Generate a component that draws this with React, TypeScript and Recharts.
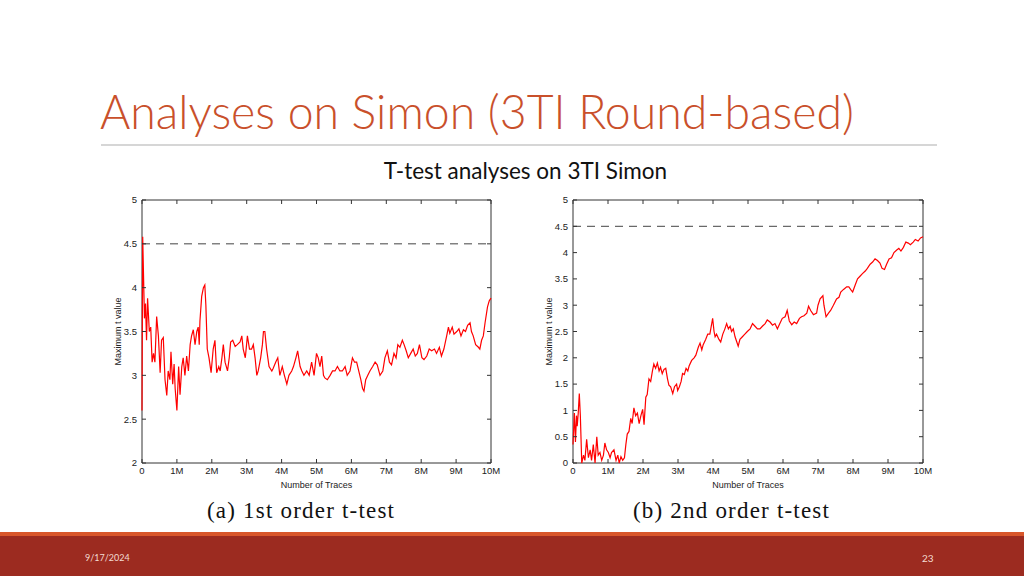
import {
	Line,
	LineChart,
	ReferenceArea,
	ReferenceLine,
	XAxis,
	YAxis,
} from 'recharts';

// 1st order t-test (left panel): traces in millions, max t value
const tracesFirst = [
	0, 0.02, 0.07, 0.1, 0.13, 0.16, 0.21, 0.25, 0.29, 0.33, 0.37, 0.42, 0.47, 0.52, 0.56, 0.61, 0.66, 0.71, 0.75, 0.8,
	0.83, 0.88, 0.92, 0.95, 1.0, 1.05, 1.09, 1.14, 1.18, 1.23, 1.28, 1.33, 1.38, 1.42, 1.47, 1.52, 1.57, 1.61, 1.64, 1.66,
	1.71, 1.76, 1.8, 1.83, 1.87, 1.92, 1.98, 2.04, 2.09, 2.14, 2.2, 2.24, 2.29, 2.33, 2.38, 2.45, 2.5, 2.54, 2.6, 2.67,
	2.73, 2.81, 2.86, 2.9, 2.96, 3.02, 3.08, 3.14, 3.19, 3.24, 3.29, 3.33, 3.4, 3.45, 3.48, 3.52, 3.57, 3.64, 3.72, 3.76,
	3.83, 3.89, 3.95, 4.02, 4.08, 4.15, 4.21, 4.29, 4.34, 4.41, 4.46, 4.53, 4.58, 4.64, 4.72, 4.79, 4.86, 4.93, 5.0, 5.05,
	5.1, 5.15, 5.2, 5.24, 5.31, 5.39, 5.46, 5.53, 5.6, 5.67, 5.74, 5.82, 5.88, 5.96, 6.03, 6.09, 6.15, 6.21, 6.27, 6.32,
	6.36, 6.41, 6.47, 6.53, 6.61, 6.68, 6.74, 6.82, 6.9, 6.96, 7.03, 7.09, 7.15, 7.22, 7.28, 7.33, 7.39, 7.46, 7.51, 7.57,
	7.63, 7.7, 7.77, 7.83, 7.89, 7.95, 8.02, 8.08, 8.16, 8.23, 8.3, 8.38, 8.44, 8.52, 8.58, 8.65, 8.73, 8.78, 8.82, 8.89,
	8.94, 9.02, 9.08, 9.14, 9.21, 9.27, 9.33, 9.4, 9.44, 9.49, 9.56, 9.64, 9.68, 9.73, 9.78, 9.83, 9.9, 9.95, 10,
];
const tValueFirst = [
	2.6, 4.58, 3.65, 3.82, 3.4, 3.88, 3.5, 3.55, 3.15, 3.25, 3.15, 3.67, 3.45, 3.03, 3.4, 3.43, 2.95, 2.77, 3.05, 2.95,
	3.27, 2.9, 3.13, 2.85, 2.6, 3.1, 2.78, 3.1, 3.2, 3.0, 3.22, 3.05, 3.35, 3.45, 3.52, 3.35, 3.5, 3.55, 3.35, 3.62,
	3.9, 4.0, 4.03, 3.8, 3.3, 3.2, 3.03, 3.3, 3.4, 3.03, 3.1, 3.05, 3.2, 3.35, 3.15, 3.05, 3.2, 3.38, 3.4, 3.33,
	3.35, 3.38, 3.45, 3.3, 3.2, 3.45, 3.3, 3.3, 3.35, 3.2, 3.0, 3.05, 3.2, 3.35, 3.5, 3.5, 3.3, 3.1, 3.05, 3.08,
	3.15, 3.2, 3.0, 3.1, 3.0, 2.9, 3.0, 3.05, 3.1, 3.2, 3.28, 3.1, 3.05, 3.0, 3.05, 3.0, 3.15, 3.0, 3.25, 3.2,
	3.1, 3.22, 3.0, 2.97, 2.95, 3.0, 3.05, 3.05, 3.1, 3.05, 3.05, 3.1, 3.0, 3.05, 3.2, 3.15, 3.15, 3.05, 2.95, 2.85,
	2.82, 2.95, 3.0, 3.05, 3.1, 3.15, 3.12, 3.0, 3.05, 3.2, 3.28, 3.15, 3.12, 3.25, 3.2, 3.35, 3.32, 3.4, 3.35, 3.28,
	3.2, 3.25, 3.3, 3.22, 3.25, 3.35, 3.2, 3.18, 3.22, 3.3, 3.28, 3.3, 3.25, 3.32, 3.22, 3.3, 3.45, 3.55, 3.48, 3.55,
	3.47, 3.5, 3.53, 3.45, 3.52, 3.5, 3.57, 3.6, 3.5, 3.45, 3.35, 3.32, 3.3, 3.4, 3.45, 3.6, 3.78, 3.85, 3.88,
];

// 2nd order t-test (right panel)
const tracesSecond = [
	0, 0.04, 0.07, 0.1, 0.12, 0.15, 0.18, 0.21, 0.25, 0.3, 0.34, 0.39, 0.44, 0.49, 0.53, 0.58, 0.63, 0.68, 0.72, 0.77,
	0.82, 0.87, 0.91, 0.96, 1.01, 1.06, 1.1, 1.17, 1.23, 1.28, 1.32, 1.37, 1.42, 1.47, 1.51, 1.55, 1.6, 1.65, 1.69, 1.74,
	1.79, 1.84, 1.89, 1.94, 1.99, 2.03, 2.08, 2.12, 2.17, 2.22, 2.27, 2.31, 2.36, 2.41, 2.46, 2.5, 2.55, 2.6, 2.65, 2.7,
	2.74, 2.79, 2.85, 2.9, 2.96, 2.99, 3.04, 3.09, 3.13, 3.18, 3.23, 3.28, 3.32, 3.39, 3.46, 3.51, 3.58, 3.63, 3.68, 3.72,
	3.79, 3.85, 3.91, 3.99, 4.03, 4.06, 4.1, 4.17, 4.22, 4.28, 4.34, 4.39, 4.44, 4.49, 4.53, 4.58, 4.63, 4.68, 4.72, 4.77,
	4.84, 4.91, 4.98, 5.06, 5.13, 5.2, 5.27, 5.34, 5.41, 5.49, 5.55, 5.63, 5.7, 5.77, 5.84, 5.91, 5.98, 6.06, 6.12, 6.18,
	6.25, 6.32, 6.39, 6.47, 6.53, 6.6, 6.68, 6.73, 6.79, 6.87, 6.96, 7.0, 7.06, 7.14, 7.17, 7.23, 7.3, 7.36, 7.44, 7.53,
	7.6, 7.65, 7.73, 7.82, 7.88, 7.93, 7.99, 8.06, 8.13, 8.2, 8.27, 8.35, 8.41, 8.49, 8.56, 8.63, 8.7, 8.77, 8.83, 8.9,
	8.96, 9.03, 9.1, 9.17, 9.25, 9.31, 9.37, 9.44, 9.51, 9.58, 9.64, 9.72, 9.78, 9.86, 9.93, 10,
];
const tValueSecond = [
	0.35, 0.95, 0.4, 0.9, 0.7, 0.95, 1.32, 0.9, 0.0, 0.15, 0.05, 0.45, 0.1, 0.25, 0.05, 0.35, 0.0, 0.5, 0.15, 0.2,
	0.05, 0.15, 0.38, 0.25, 0.2, 0.1, 0.2, 0.25, 0.05, 0.15, 0.0, 0.12, 0.05, 0.1, 0.35, 0.55, 0.6, 0.85, 0.75, 1.05,
	0.9, 0.95, 0.75, 0.9, 1.02, 0.73, 1.25, 1.3, 1.6, 1.55, 1.75, 1.88, 1.8, 1.9, 1.75, 1.82, 1.7, 1.78, 1.8, 1.6,
	1.48, 1.45, 1.32, 1.45, 1.5, 1.38, 1.45, 1.55, 1.7, 1.68, 1.8, 1.75, 1.85, 1.95, 2.0, 2.05, 2.2, 2.28, 2.15, 2.25,
	2.35, 2.45, 2.45, 2.75, 2.5, 2.4, 2.45, 2.35, 2.3, 2.45, 2.55, 2.65, 2.55, 2.6, 2.5, 2.55, 2.4, 2.3, 2.22, 2.35,
	2.4, 2.45, 2.5, 2.55, 2.65, 2.6, 2.55, 2.55, 2.6, 2.65, 2.72, 2.68, 2.62, 2.65, 2.55, 2.65, 2.75, 2.78, 2.9, 2.7,
	2.63, 2.68, 2.65, 2.75, 2.78, 2.8, 2.85, 2.98, 2.9, 2.82, 2.85, 3.0, 3.12, 3.18, 3.0, 2.78, 2.85, 2.9, 3.0, 3.12,
	3.15, 3.25, 3.3, 3.35, 3.35, 3.3, 3.25, 3.38, 3.5, 3.55, 3.6, 3.65, 3.7, 3.78, 3.82, 3.88, 3.85, 3.8, 3.7, 3.68,
	3.78, 3.88, 3.9, 4.0, 4.05, 4.08, 4.03, 4.1, 4.2, 4.18, 4.15, 4.2, 4.25, 4.22, 4.28, 4.3,
];

const traceTicks = [0, 1, 2, 3, 4, 5, 6, 7, 8, 9, 10];
const firstTicks = [2, 2.5, 3, 3.5, 4, 4.5, 5];
const secondTicks = [0, 0.5, 1, 1.5, 2, 2.5, 3, 3.5, 4, 4.5, 5];
const threshold = 4.5;

const firstData = tracesFirst.map((t, i) => ({ t, v: tValueFirst[i] }));
const secondData = tracesSecond.map((t, i) => ({ t, v: tValueSecond[i] }));

const axisFont = '"Liberation Sans", Arial, sans-serif';
const bodyFont = 'Lato, "Open Sans", sans-serif';
const captionFont = '"Liberation Serif", serif';

const fmtTrace = (v: number) => (v === 0 ? '0' : `${v}M`);

function BottomTick({ x, y, payload, plotHeight }: any) {
	return (
		<g>
			<line x1={x} x2={x} y1={y - 4} y2={y - 8} stroke="#333" />
			<line x1={x} x2={x} y1={y - 4 - plotHeight} y2={y - plotHeight} stroke="#333" />
			<text x={x} y={y} dy="0.71em" textAnchor="middle" fontSize={9.5} fontFamily={axisFont} fill="#222">
				{fmtTrace(payload.value)}
			</text>
		</g>
	);
}

function LeftTick({ x, y, payload, plotWidth }: any) {
	return (
		<g>
			<line x1={x + 5} x2={x + 9} y1={y} y2={y} stroke="#333" />
			<line x1={x + 5 + plotWidth} x2={x + 1 + plotWidth} y1={y} y2={y} stroke="#333" />
			<text x={x} y={y} dy="0.355em" textAnchor="end" fontSize={9.5} fontFamily={axisFont} fill="#222">
				{payload.value}
			</text>
		</g>
	);
}

type PanelProps = {
	data: { t: number; v: number }[];
	ticks: number[];
	yMin: number;
	left: number;
	marginRight: number;
	plotWidth: number;
};

function Panel({ data, ticks, yMin, left, marginRight, plotWidth }: PanelProps) {
	return (
		<div style={{ position: 'absolute', left, top: 190 }}>
			<LineChart
				width={420}
				height={310}
				data={data}
				margin={{ top: 10, right: marginRight, bottom: 7, left: 12 }}
			>
				<XAxis
					type="number"
					dataKey="t"
					domain={[0, 10]}
					ticks={traceTicks}
					interval={0}
					height={30}
					tickSize={0}
					tickMargin={4}
					tickLine={false}
					axisLine={false}
					tick={(p: any) => <BottomTick {...p} plotHeight={263} />}
					label={{
						value: 'Number of Traces',
						position: 'insideBottom',
						offset: 5,
						fontSize: 9,
						fontFamily: axisFont,
						fill: '#222',
					}}
				/>
				<YAxis
					type="number"
					domain={[yMin, 5]}
					ticks={ticks}
					interval={0}
					width={30}
					tickSize={0}
					tickMargin={5}
					tickLine={false}
					axisLine={false}
					tick={(p: any) => <LeftTick {...p} plotWidth={plotWidth} />}
					label={{
						value: 'Maximum t value',
						angle: -90,
						position: 'insideLeft',
						offset: 6,
						fontSize: 9,
						fontFamily: axisFont,
						fill: '#222',
						style: { textAnchor: 'middle' },
					}}
				/>
				<ReferenceArea x1={0} x2={10} y1={yMin} y2={5} fill="none" stroke="#333" strokeWidth={1} />
				<ReferenceLine y={threshold} stroke="#444" strokeWidth={1} strokeDasharray="8 6" />
				<Line
					type="linear"
					dataKey="v"
					stroke="#ff0000"
					strokeWidth={1.2}
					dot={false}
					isAnimationActive={false}
				/>
			</LineChart>
		</div>
	);
}

const captionStyle = {
	position: 'absolute' as const,
	top: 498,
	fontFamily: captionFont,
	fontSize: 23,
	letterSpacing: 1.2,
	color: '#111',
	whiteSpace: 'nowrap' as const,
};

export default function App() {
	return (
		<div
			style={{
				position: 'absolute',
				left: 0,
				top: 0,
				width: 1024,
				height: 576,
				background: '#fff',
				overflow: 'hidden',
			}}
		>
			<div
				style={{
					position: 'absolute',
					left: 100,
					top: 83,
					fontFamily: bodyFont,
					fontWeight: 300,
					fontSize: 46.4,
					color: '#c9502b',
					whiteSpace: 'nowrap',
				}}
			>
				Analyses on Simon (3TI Round-based)
			</div>
			<div style={{ position: 'absolute', left: 101, top: 144, width: 836, height: 1.5, background: '#d6d6d6' }} />
			<div
				style={{
					position: 'absolute',
					left: 0,
					width: 1051,
					top: 157,
					textAlign: 'center',
					fontFamily: bodyFont,
					fontWeight: 400,
					fontSize: 22.5,
					color: '#111',
				}}
			>
				T-test analyses on 3TI Simon
			</div>

			<Panel data={firstData} ticks={firstTicks} yMin={2} left={100} marginRight={29} plotWidth={349} />
			<Panel data={secondData} ticks={secondTicks} yMin={0} left={531} marginRight={28} plotWidth={350} />

			<div style={{ ...captionStyle, left: 207 }}>(a) 1st order t-test</div>
			<div style={{ ...captionStyle, left: 633 }}>(b) 2nd order t-test</div>

			<div style={{ position: 'absolute', left: 0, top: 532, width: 1024, height: 44, background: '#9c2b20' }} />
			<div style={{ position: 'absolute', left: 0, top: 532, width: 1024, height: 4, background: '#d8562a' }} />
			<div
				style={{
					position: 'absolute',
					left: 85,
					top: 552,
					fontFamily: bodyFont,
					fontSize: 9,
					color: '#f3dcd2',
				}}
			>
				9/17/2024
			</div>
			<div
				style={{
					position: 'absolute',
					left: 922,
					top: 552,
					fontFamily: bodyFont,
					fontSize: 10,
					color: '#f3dcd2',
				}}
			>
				23
			</div>
		</div>
	);
}
